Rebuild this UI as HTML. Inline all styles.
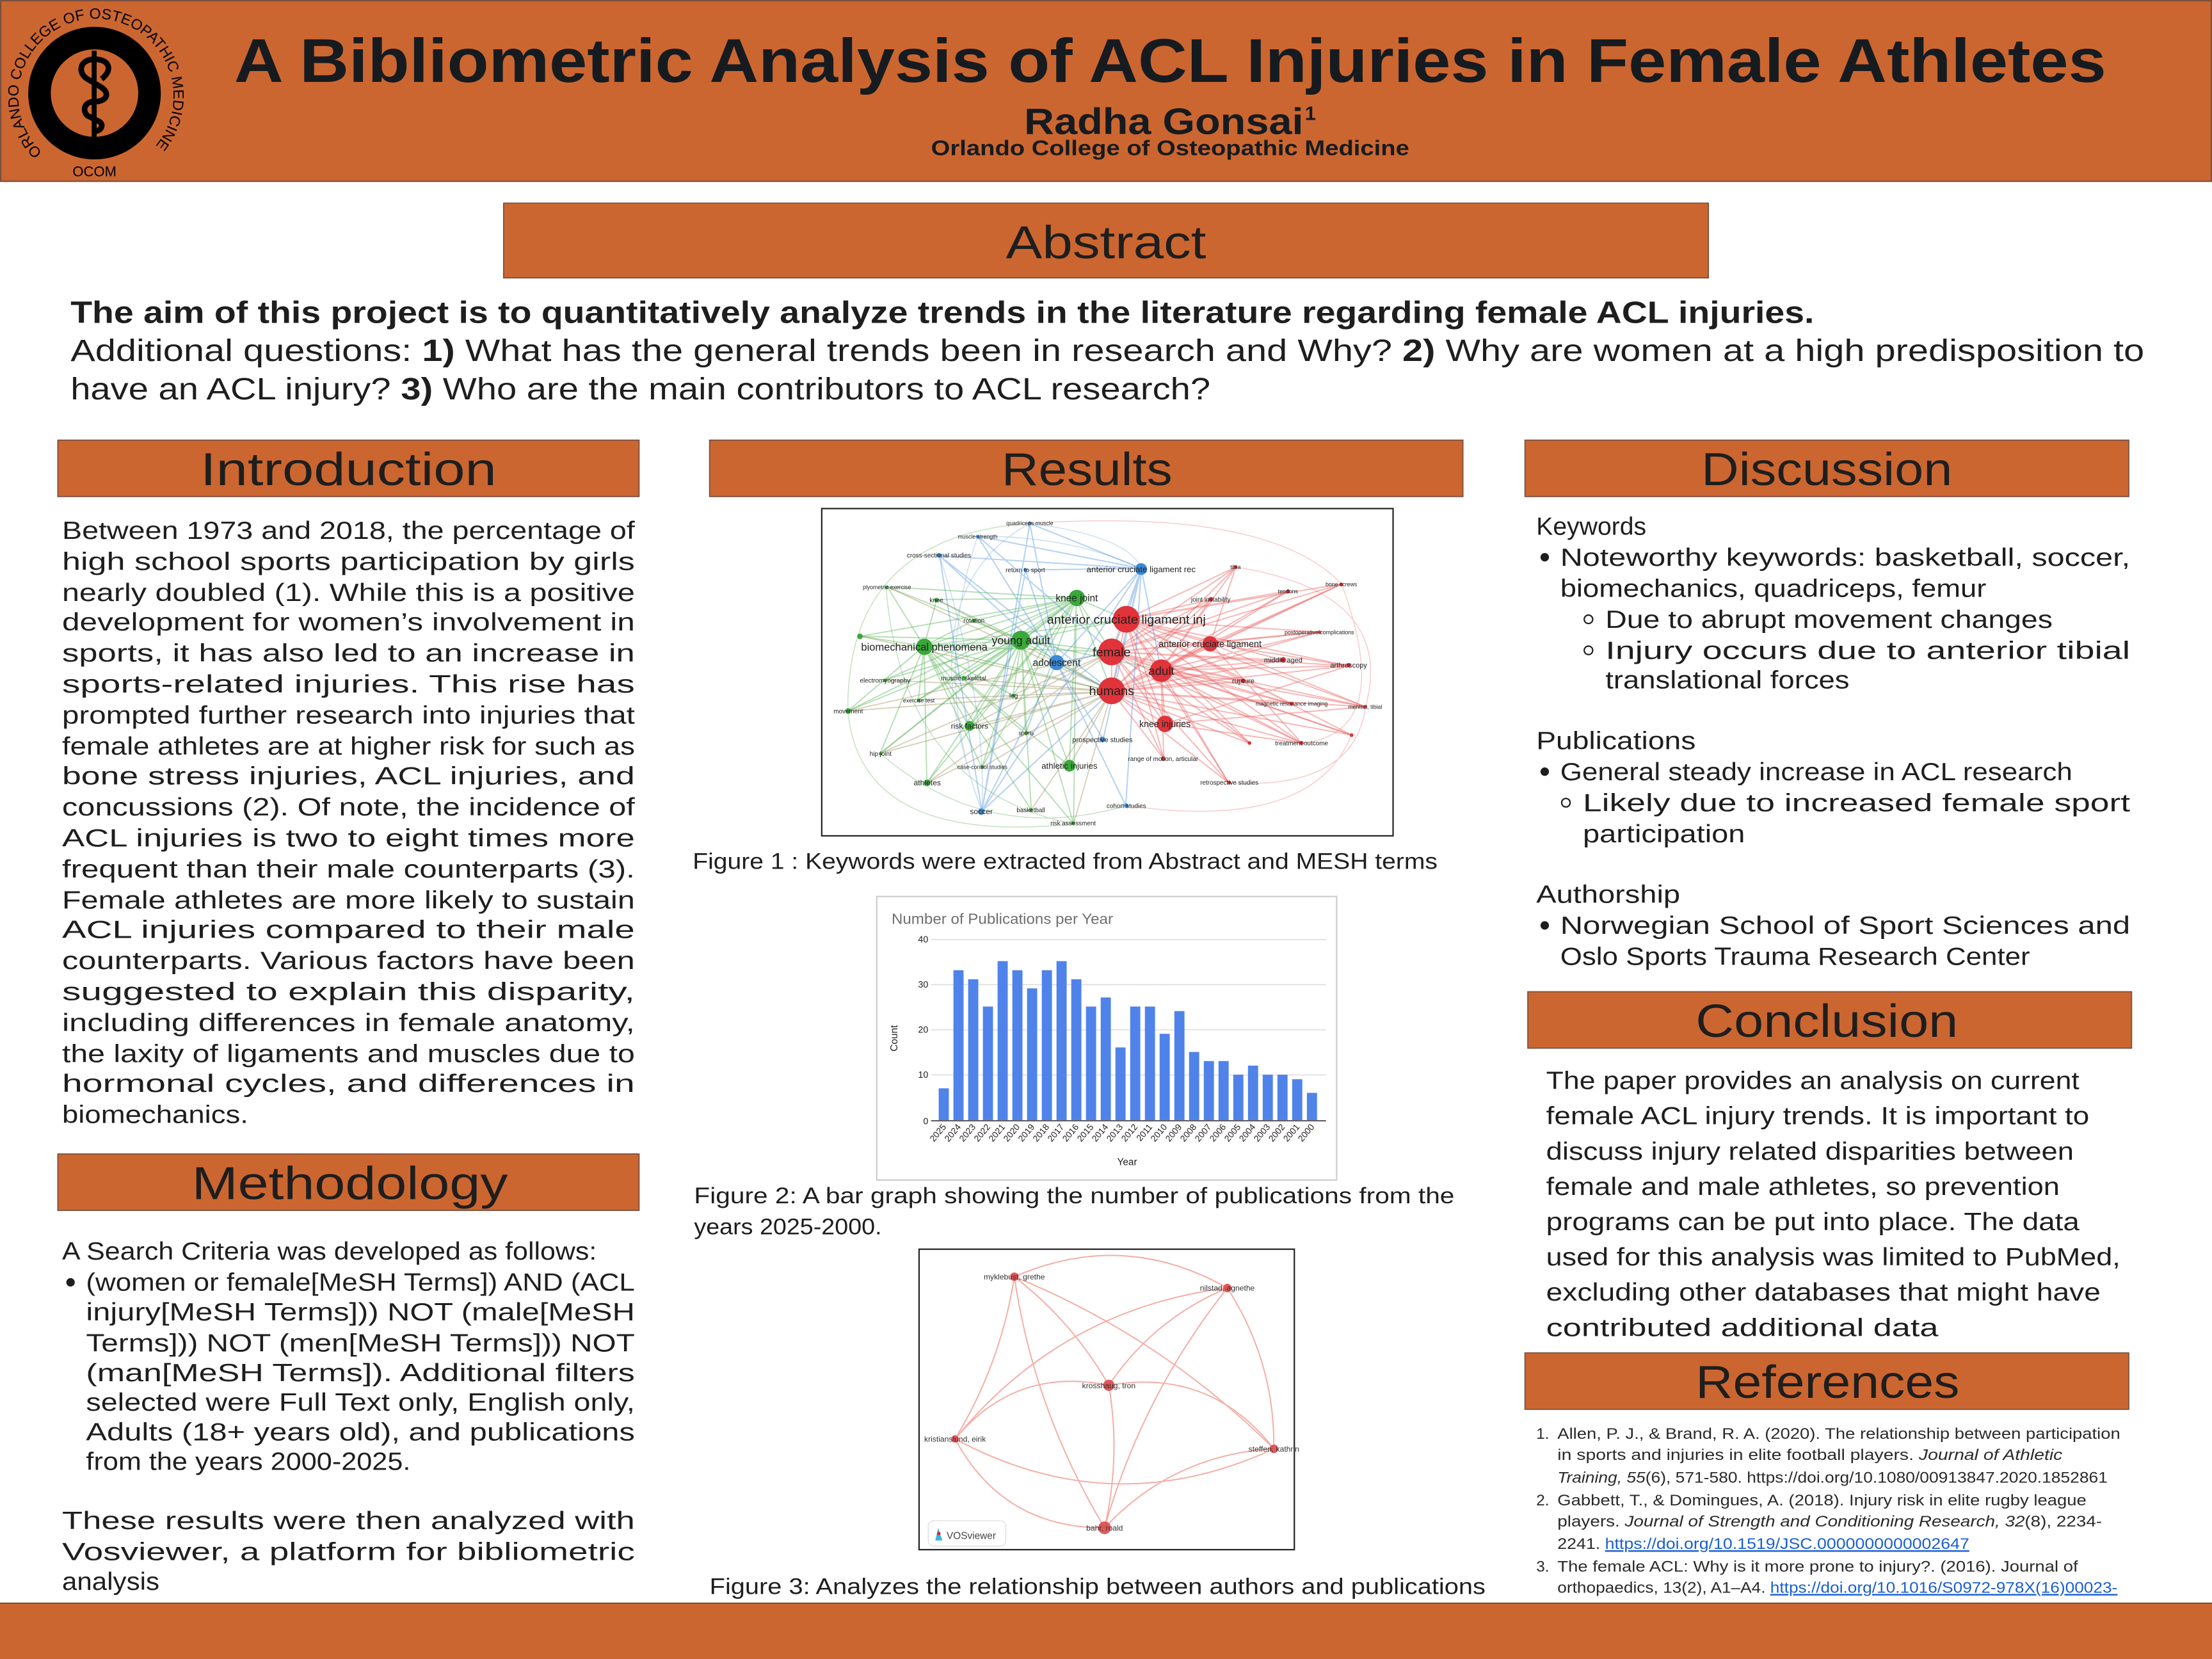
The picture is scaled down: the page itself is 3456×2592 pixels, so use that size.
<!DOCTYPE html>
<html><head><meta charset="utf-8"><style>
html,body{margin:0;padding:0;background:#fff;}
svg{display:block;}
text{font-family:"Liberation Sans",sans-serif;}
</style></head><body>
<svg width="3456" height="2592" viewBox="0 0 1568 1176" xmlns="http://www.w3.org/2000/svg">
<rect width="1568" height="1176" fill="#fff"/>
<!-- header -->
<rect x="0.5" y="0.5" width="1567" height="128" fill="#cc6630" stroke="#7a5040" stroke-width="1"/>
<g>
 <circle cx="67" cy="66" r="39" fill="none" stroke="#000" stroke-width="16"/>
 <defs><path id="lp" d="M 30 108 A 55 55 0 1 1 106 108"/></defs>
 <text font-size="10.5" fill="#000"><textPath href="#lp" textLength="255" lengthAdjust="spacingAndGlyphs">ORLANDO COLLEGE OF OSTEOPATHIC MEDICINE</textPath></text>
 <text x="67" y="125" font-size="10" text-anchor="middle" fill="#000">OCOM</text>
 <rect x="65" y="36" width="3.5" height="62" fill="#000"/>
 <path d="M72 56 C 80 50, 78 42, 67 42 C 56 42, 55 52, 62 56 L 72 62 C 78 66, 76 72, 67 72 C 60 72, 58 78, 62 82 L 70 86 C 74 88, 72 93, 67 93" fill="none" stroke="#000" stroke-width="4"/>
</g>
<text x="166" y="58" font-size="44" font-weight="bold" fill="#161b20" textLength="1327" lengthAdjust="spacingAndGlyphs">A Bibliometric Analysis of ACL Injuries in Female Athletes</text>
<text x="726" y="95" font-size="26" font-weight="bold" fill="#161b20" textLength="198" lengthAdjust="spacingAndGlyphs">Radha Gonsai</text>
<text x="925" y="85" font-size="14" font-weight="bold" fill="#161b20">1</text>
<text x="660" y="110" font-size="15" font-weight="bold" fill="#161b20" textLength="339" lengthAdjust="spacingAndGlyphs">Orlando College of Osteopathic Medicine</text>

<!-- section headers -->
<g fill="#cc6630" stroke="#7a5040" stroke-width="0.8">
 <rect x="357" y="144" width="854" height="53"/>
 <rect x="41" y="312" width="412" height="40"/>
 <rect x="41" y="818" width="412" height="40"/>
 <rect x="503" y="312" width="534" height="40"/>
 <rect x="1081" y="312" width="428" height="40"/>
 <rect x="1083" y="703" width="428" height="40"/>
 <rect x="1081" y="959" width="428" height="40"/>
</g>
<g font-size="33" fill="#1e1e1e">
 <text x="713" y="183" textLength="142" lengthAdjust="spacingAndGlyphs">Abstract</text>
 <text x="142" y="344" textLength="210" lengthAdjust="spacingAndGlyphs">Introduction</text>
 <text x="136" y="850" textLength="224" lengthAdjust="spacingAndGlyphs">Methodology</text>
 <text x="710" y="344" textLength="121" lengthAdjust="spacingAndGlyphs">Results</text>
 <text x="1206" y="344" textLength="178" lengthAdjust="spacingAndGlyphs">Discussion</text>
 <text x="1202" y="735" textLength="186" lengthAdjust="spacingAndGlyphs">Conclusion</text>
 <text x="1202" y="991" textLength="187" lengthAdjust="spacingAndGlyphs">References</text>
</g>

<!-- abstract text -->
<g font-size="22" fill="#1e1e1e">
 <text x="50" y="229" font-weight="bold" textLength="1236" lengthAdjust="spacingAndGlyphs">The aim of this project is to quantitatively analyze trends in the literature regarding female ACL injuries.</text>
 <text x="50" y="256" textLength="1470" lengthAdjust="spacingAndGlyphs">Additional questions:  <tspan font-weight="bold">1)</tspan> What has the general trends been in research and Why? <tspan font-weight="bold">2)</tspan> Why are women at a high predisposition to</text>
 <text x="50" y="283" textLength="808" lengthAdjust="spacingAndGlyphs">have an ACL injury? <tspan font-weight="bold">3)</tspan> Who are the main contributors to ACL research?</text>
</g>

<!-- intro -->
<g font-size="17.5" fill="#1e1e1e">
 <text x="44" y="382" textLength="406" lengthAdjust="spacingAndGlyphs">Between 1973 and 2018, the percentage of</text>
 <text x="44" y="404" textLength="406" lengthAdjust="spacingAndGlyphs">high school sports participation by girls</text>
 <text x="44" y="426" textLength="406" lengthAdjust="spacingAndGlyphs">nearly doubled (1). While this is a positive</text>
 <text x="44" y="447" textLength="406" lengthAdjust="spacingAndGlyphs">development for women’s involvement in</text>
 <text x="44" y="469" textLength="406" lengthAdjust="spacingAndGlyphs">sports, it has also led to an increase in</text>
 <text x="44" y="491" textLength="406" lengthAdjust="spacingAndGlyphs">sports-related   injuries.   This   rise   has</text>
 <text x="44" y="513" textLength="406" lengthAdjust="spacingAndGlyphs">prompted further research into injuries that</text>
 <text x="44" y="535" textLength="406" lengthAdjust="spacingAndGlyphs">female athletes are at higher risk for such as</text>
 <text x="44" y="556" textLength="406" lengthAdjust="spacingAndGlyphs">bone  stress  injuries,  ACL  injuries,  and</text>
 <text x="44" y="578" textLength="406" lengthAdjust="spacingAndGlyphs">concussions (2). Of note, the incidence of</text>
 <text x="44" y="600" textLength="406" lengthAdjust="spacingAndGlyphs">ACL  injuries  is  two  to  eight  times  more</text>
 <text x="44" y="622" textLength="406" lengthAdjust="spacingAndGlyphs">frequent than their male counterparts (3).</text>
 <text x="44" y="644" textLength="406" lengthAdjust="spacingAndGlyphs">Female athletes are more likely to sustain</text>
 <text x="44" y="665" textLength="406" lengthAdjust="spacingAndGlyphs">ACL   injuries   compared   to   their   male</text>
 <text x="44" y="687" textLength="406" lengthAdjust="spacingAndGlyphs">counterparts.  Various  factors  have  been</text>
 <text x="44" y="709" textLength="406" lengthAdjust="spacingAndGlyphs">suggested    to    explain    this    disparity,</text>
 <text x="44" y="731" textLength="406" lengthAdjust="spacingAndGlyphs">including differences in female anatomy,</text>
 <text x="44" y="753" textLength="406" lengthAdjust="spacingAndGlyphs">the laxity of ligaments and muscles due to</text>
 <text x="44" y="774" textLength="406" lengthAdjust="spacingAndGlyphs">hormonal    cycles,    and    differences    in</text>
 <text x="44" y="796" textLength="132" lengthAdjust="spacingAndGlyphs">biomechanics.</text>
</g>

<!-- methodology -->
<g font-size="17.5" fill="#1e1e1e">
 <text x="44" y="893" textLength="379" lengthAdjust="spacingAndGlyphs">A Search Criteria was developed as follows:</text>
 <circle cx="50" cy="909" r="3" fill="#1e1e1e"/>
 <text x="61" y="915" textLength="389" lengthAdjust="spacingAndGlyphs">(women or female[MeSH Terms]) AND (ACL</text>
 <text x="61" y="936" textLength="389" lengthAdjust="spacingAndGlyphs">injury[MeSH   Terms]))   NOT   (male[MeSH</text>
 <text x="61" y="958" textLength="389" lengthAdjust="spacingAndGlyphs">Terms]))  NOT  (men[MeSH  Terms]))  NOT</text>
 <text x="61" y="979" textLength="389" lengthAdjust="spacingAndGlyphs">(man[MeSH   Terms]).   Additional   filters</text>
 <text x="61" y="1000" textLength="389" lengthAdjust="spacingAndGlyphs">selected were Full Text only, English only,</text>
 <text x="61" y="1021" textLength="389" lengthAdjust="spacingAndGlyphs">Adults  (18+  years  old),  and  publications</text>
 <text x="61" y="1042" textLength="230" lengthAdjust="spacingAndGlyphs">from the years 2000-2025.</text>
 <text x="44" y="1084" textLength="406" lengthAdjust="spacingAndGlyphs">These   results   were   then   analyzed   with</text>
 <text x="44" y="1106" textLength="406" lengthAdjust="spacingAndGlyphs">Vosviewer,    a    platform    for    bibliometric</text>
 <text x="44" y="1127" textLength="69" lengthAdjust="spacingAndGlyphs">analysis</text>
</g>

<!-- discussion -->
<g font-size="17.5" fill="#1e1e1e">
 <text x="1089" y="379" textLength="78" lengthAdjust="spacingAndGlyphs">Keywords</text>
 <circle cx="1095" cy="395" r="3" fill="#1e1e1e"/>
 <text x="1106" y="401" textLength="404" lengthAdjust="spacingAndGlyphs">Noteworthy  keywords:  basketball,  soccer,</text>
 <text x="1106" y="423" textLength="302" lengthAdjust="spacingAndGlyphs">biomechanics, quadriceps, femur</text>
 <circle cx="1126" cy="439" r="3" fill="none" stroke="#1e1e1e" stroke-width="1"/>
 <text x="1138" y="445" textLength="317" lengthAdjust="spacingAndGlyphs">Due to abrupt movement changes</text>
 <circle cx="1126" cy="461" r="3" fill="none" stroke="#1e1e1e" stroke-width="1"/>
 <text x="1138" y="467" textLength="372" lengthAdjust="spacingAndGlyphs">Injury   occurs   due   to   anterior   tibial</text>
 <text x="1138" y="488" textLength="173" lengthAdjust="spacingAndGlyphs">translational forces</text>
 <text x="1089" y="531" textLength="113" lengthAdjust="spacingAndGlyphs">Publications</text>
 <circle cx="1095" cy="547" r="3" fill="#1e1e1e"/>
 <text x="1106" y="553" textLength="363" lengthAdjust="spacingAndGlyphs">General steady increase in ACL research</text>
 <circle cx="1110" cy="569" r="3" fill="none" stroke="#1e1e1e" stroke-width="1"/>
 <text x="1122" y="575" textLength="388" lengthAdjust="spacingAndGlyphs">Likely   due   to   increased   female   sport</text>
 <text x="1122" y="597" textLength="115" lengthAdjust="spacingAndGlyphs">participation</text>
 <text x="1089" y="640" textLength="102" lengthAdjust="spacingAndGlyphs">Authorship</text>
 <circle cx="1095" cy="656" r="3" fill="#1e1e1e"/>
 <text x="1106" y="662" textLength="404" lengthAdjust="spacingAndGlyphs">Norwegian  School  of  Sport  Sciences  and</text>
 <text x="1106" y="684" textLength="333" lengthAdjust="spacingAndGlyphs">Oslo Sports Trauma Research Center</text>
</g>

<!-- conclusion -->
<g font-size="17.5" fill="#1e1e1e">
 <text x="1096" y="772" textLength="378" lengthAdjust="spacingAndGlyphs">The paper provides an analysis on current</text>
 <text x="1096" y="797" textLength="385" lengthAdjust="spacingAndGlyphs">female ACL injury trends. It is important to</text>
 <text x="1096" y="822" textLength="374" lengthAdjust="spacingAndGlyphs">discuss injury related disparities between</text>
 <text x="1096" y="847" textLength="364" lengthAdjust="spacingAndGlyphs">female and male athletes, so prevention</text>
 <text x="1096" y="872" textLength="378" lengthAdjust="spacingAndGlyphs">programs can be put into place.  The data</text>
 <text x="1096" y="897" textLength="407" lengthAdjust="spacingAndGlyphs">used for this analysis was limited to PubMed,</text>
 <text x="1096" y="922" textLength="393" lengthAdjust="spacingAndGlyphs">excluding other databases that might have</text>
 <text x="1096" y="947" textLength="278" lengthAdjust="spacingAndGlyphs">contributed additional data</text>
</g>

<!-- references -->
<g font-size="11" fill="#2a2a2a">
 <text x="1089" y="1020">1.</text>
 <text x="1104" y="1020" textLength="399" lengthAdjust="spacingAndGlyphs">Allen, P. J., &amp; Brand, R. A. (2020). The relationship between participation</text>
 <text x="1104" y="1035" textLength="358" lengthAdjust="spacingAndGlyphs">in sports and injuries in elite football players. <tspan font-style="italic">Journal of Athletic</tspan></text>
 <text x="1104" y="1051" textLength="390" lengthAdjust="spacingAndGlyphs"><tspan font-style="italic">Training, 55</tspan>(6), 571-580. https://doi.org/10.1080/00913847.2020.1852861</text>
 <text x="1089" y="1067">2.</text>
 <text x="1104" y="1067" textLength="375" lengthAdjust="spacingAndGlyphs">Gabbett, T., &amp; Domingues, A. (2018). Injury risk in elite rugby league</text>
 <text x="1104" y="1082" textLength="386" lengthAdjust="spacingAndGlyphs">players. <tspan font-style="italic">Journal of Strength and Conditioning Research, 32</tspan>(8), 2234-</text>
 <text x="1104" y="1098" textLength="292" lengthAdjust="spacingAndGlyphs">2241. <tspan fill="#1a5fd0" text-decoration="underline">https://doi.org/10.1519/JSC.0000000000002647</tspan></text>
 <text x="1089" y="1114">3.</text>
 <text x="1104" y="1114" textLength="369" lengthAdjust="spacingAndGlyphs">The female ACL: Why is it more prone to injury?. (2016). Journal of</text>
 <text x="1104" y="1129" textLength="397" lengthAdjust="spacingAndGlyphs">orthopaedics, 13(2), A1–A4. <tspan fill="#1a5fd0" text-decoration="underline">https://doi.org/10.1016/S0972-978X(16)00023-</tspan></text>
 <text x="1104" y="1145" fill="#1a5fd0" text-decoration="underline">4</text>
</g>

<!-- captions -->
<g font-size="16" fill="#1e1e1e">
 <text x="491" y="616" textLength="528" lengthAdjust="spacingAndGlyphs">Figure 1 : Keywords were extracted from Abstract and MESH terms</text>
 <text x="492" y="853" textLength="539" lengthAdjust="spacingAndGlyphs">Figure 2: A bar graph showing  the number of publications from the</text>
 <text x="492" y="875" textLength="133" lengthAdjust="spacingAndGlyphs">years 2025-2000.</text>
 <text x="503" y="1130" textLength="550" lengthAdjust="spacingAndGlyphs">Figure 3: Analyzes the relationship between authors and publications</text>
</g>

<!-- figure 1 -->
<rect x="582.5" y="360.5" width="405" height="232" fill="#fff" stroke="#222" stroke-width="1"/>
<g fill="none" stroke-width="0.7" stroke-opacity="0.45">
 <path stroke="#80c080" d="M601 504 Q600 380 730 371 M601 504 Q610 600 761 584 M628 416 Q640 560 761 584 M624 534 Q700 600 799 571"/>
 <path stroke="#f09090" d="M876 402 Q990 420 968 501 M951 414 Q990 520 922 527 M730 371 Q900 360 951 414 M871 555 Q960 560 968 501 M799 571 Q930 590 958 521"/>
 <path stroke="#90b8e8" d="M730 371 Q640 420 696 575 M693 380 Q660 480 696 575 M666 394 Q700 500 696 575 M730 371 Q800 380 809 403 M693 380 Q760 380 809 403"/>
 <path stroke="#60b860" stroke-width="0.9" d="M655 458 L629 416 M655 458 L664 425 M655 458 L763 424 M655 458 L690 440 M655 458 L610 451 M655 458 L724 454 M655 458 L627 482 M655 458 L683 481 M655 458 L718 493 M655 458 L651 496 M655 458 L601 504 M655 458 L687 515 M655 458 L727 520 M655 458 L624 534 M655 458 L696 544 M655 458 L758 543 M655 458 L657 555 M655 458 L731 574 M655 458 L761 584 M655 458 L798 439 M655 458 L788 462 M655 458 L788 490"/>
 <path stroke="#60b860" stroke-width="0.9" d="M724 454 L629 416 M724 454 L664 425 M724 454 L763 424 M724 454 L690 440 M724 454 L610 451 M724 454 L627 482 M724 454 L683 481 M724 454 L718 493 M724 454 L651 496 M724 454 L601 504 M724 454 L687 515 M724 454 L727 520 M724 454 L624 534 M724 454 L696 544 M724 454 L758 543 M724 454 L657 555 M724 454 L731 574 M724 454 L761 584 M724 454 L798 439 M724 454 L788 462 M724 454 L788 490 M724 454 L823 475"/>
 <path stroke="#60b860" stroke-width="0.9" d="M763 424 L629 416 M763 424 L664 425 M763 424 L690 440 M763 424 L610 451 M763 424 L627 482 M763 424 L683 481 M763 424 L718 493 M763 424 L651 496 M763 424 L601 504 M763 424 L687 515 M763 424 L727 520 M763 424 L624 534 M763 424 L696 544 M763 424 L758 543 M763 424 L657 555 M763 424 L761 584 M763 424 L798 439 M763 424 L788 462 M763 424 L788 490"/>
 <path stroke="#a09060" stroke-width="0.8" d="M788 490 L629 416 M788 490 L664 425 M788 490 L610 451 M788 490 L627 482 M788 490 L683 481 M788 490 L651 496 M788 490 L601 504 M788 490 L687 515 M788 490 L624 534 M788 490 L696 544 M788 490 L758 543 M788 490 L657 555 M788 490 L731 574 M788 490 L761 584 M788 462 L687 515 M788 462 L657 555 M788 462 L601 504 M788 462 L624 534"/>
 <path stroke="#ee6060" stroke-width="0.9" d="M798 439 L876 402 M798 439 L951 414 M798 439 L913 419 M798 439 L858 425 M798 439 L935 448 M798 439 L788 462 M798 439 L858 456 M798 439 L910 468 M798 439 L956 472 M798 439 L823 475 M798 439 L788 490 M798 439 L881 483 M798 439 L916 499 M798 439 L968 501 M798 439 L826 513 M798 439 L886 527 M798 439 L958 521 M798 439 L923 527 M798 439 L825 538 M798 439 L871 555"/>
 <path stroke="#ee6060" stroke-width="0.9" d="M788 462 L876 402 M788 462 L951 414 M788 462 L913 419 M788 462 L858 425 M788 462 L935 448 M788 462 L858 456 M788 462 L910 468 M788 462 L956 472 M788 462 L823 475 M788 462 L788 490 M788 462 L881 483 M788 462 L916 499 M788 462 L968 501 M788 462 L826 513 M788 462 L886 527 M788 462 L958 521 M788 462 L923 527 M788 462 L825 538 M788 462 L871 555"/>
 <path stroke="#ee6060" stroke-width="0.9" d="M788 490 L876 402 M788 490 L951 414 M788 490 L913 419 M788 490 L858 425 M788 490 L935 448 M788 490 L858 456 M788 490 L910 468 M788 490 L956 472 M788 490 L823 475 M788 490 L881 483 M788 490 L916 499 M788 490 L968 501 M788 490 L826 513 M788 490 L886 527 M788 490 L958 521 M788 490 L923 527 M788 490 L825 538 M788 490 L871 555"/>
 <path stroke="#ee6060" stroke-width="0.9" d="M823 475 L876 402 M823 475 L951 414 M823 475 L913 419 M823 475 L858 425 M823 475 L935 448 M823 475 L858 456 M823 475 L910 468 M823 475 L956 472 M823 475 L881 483 M823 475 L916 499 M823 475 L968 501 M823 475 L826 513 M823 475 L886 527 M823 475 L958 521 M823 475 L923 527 M823 475 L825 538 M823 475 L871 555 M858 456 L951 414 M858 456 L956 472 M858 456 L968 501 M858 456 L923 527 M858 456 L876 402 M858 456 L935 448 M826 513 L968 501 M826 513 L923 527 M826 513 L956 472"/>
 <path stroke="#5a98e0" stroke-width="0.9" d="M809 403 L730 371 M809 403 L693 380 M809 403 L666 394 M809 403 L727 404 M809 403 L749 470 M809 403 L782 524 M809 403 L798 571 M809 403 L696 575 M809 403 L798 439 M809 403 L788 462 M809 403 L788 490 M809 403 L823 475 M749 470 L730 371 M749 470 L693 380 M749 470 L666 394 M749 470 L727 404 M749 470 L782 524 M749 470 L798 571 M749 470 L696 575 M749 470 L788 462 M749 470 L788 490 M696 575 L730 371 M696 575 L666 394 M696 575 L727 404 M696 575 L788 490 M666 394 L788 490 M693 380 L788 462"/>
</g>
<g>
 <circle cx="730" cy="370.9" r="1.3" fill="#3a8ad8"/><circle cx="693" cy="380.4" r="1.3" fill="#3a8ad8"/><circle cx="665.6" cy="393.6" r="1.6" fill="#3a8ad8"/><circle cx="726.8" cy="403.9" r="1.3" fill="#3a8ad8"/>
 <circle cx="808.9" cy="403.4" r="4.2" fill="#3a8ad8"/><circle cx="875.8" cy="401.9" r="1.3" fill="#e0333a"/><circle cx="950.8" cy="414.2" r="1.3" fill="#e0333a"/><circle cx="913" cy="419.2" r="1.4" fill="#e0333a"/>
 <circle cx="628.7" cy="416.3" r="1.3" fill="#3aa83a"/><circle cx="663.8" cy="425.4" r="1.6" fill="#3aa83a"/><circle cx="763.3" cy="423.9" r="5.8" fill="#3aa83a"/><circle cx="858.3" cy="424.8" r="1.6" fill="#e0333a"/>
 <circle cx="798.4" cy="439" r="9.5" fill="#e0333a"/><circle cx="690.4" cy="439.9" r="1.3" fill="#3aa83a"/><circle cx="935.2" cy="448.2" r="1.3" fill="#e0333a"/><circle cx="609.6" cy="451.1" r="2" fill="#3aa83a"/>
 <circle cx="655.2" cy="458.5" r="5.8" fill="#3aa83a"/><circle cx="723.7" cy="453.8" r="6.7" fill="#3aa83a"/><circle cx="788" cy="462.1" r="9.5" fill="#e0333a"/><circle cx="857.8" cy="456.4" r="5.4" fill="#e0333a"/>
 <circle cx="749" cy="469.7" r="5.4" fill="#3a8ad8"/><circle cx="909.6" cy="467.7" r="2" fill="#e0333a"/><circle cx="956" cy="471.5" r="1.6" fill="#e0333a"/><circle cx="823.2" cy="475.4" r="8" fill="#e0333a"/>
 <circle cx="627.4" cy="482.3" r="1.3" fill="#3aa83a"/><circle cx="683.1" cy="480.7" r="1.6" fill="#3aa83a"/><circle cx="788" cy="489.7" r="9.5" fill="#e0333a"/><circle cx="881.3" cy="482.6" r="1.6" fill="#e0333a"/>
 <circle cx="718.5" cy="493.1" r="1.3" fill="#3aa83a"/><circle cx="651.3" cy="496.5" r="1.3" fill="#3aa83a"/><circle cx="915.6" cy="498.9" r="1.4" fill="#e0333a"/><circle cx="967.7" cy="501" r="1.3" fill="#e0333a"/>
 <circle cx="601.3" cy="504" r="2" fill="#3aa83a"/><circle cx="825.8" cy="513.1" r="5.8" fill="#e0333a"/><circle cx="687.3" cy="514.6" r="3.5" fill="#3aa83a"/><circle cx="727.4" cy="519.6" r="1.3" fill="#3aa83a"/>
 <circle cx="781.5" cy="524.2" r="2" fill="#3a8ad8"/><circle cx="885.7" cy="526.7" r="1.3" fill="#e0333a"/><circle cx="958.1" cy="521.1" r="1.3" fill="#e0333a"/><circle cx="922.7" cy="526.7" r="1.4" fill="#e0333a"/>
 <circle cx="624.2" cy="534.3" r="1.3" fill="#3aa83a"/><circle cx="824.5" cy="537.8" r="1.6" fill="#e0333a"/><circle cx="696.4" cy="543.8" r="1.3" fill="#3aa83a"/><circle cx="758.1" cy="542.8" r="4.2" fill="#3aa83a"/>
 <circle cx="657.3" cy="554.9" r="2.3" fill="#3aa83a"/><circle cx="871.4" cy="554.7" r="1.3" fill="#e0333a"/><circle cx="798.4" cy="571.1" r="1.6" fill="#3a8ad8"/><circle cx="695.6" cy="575.3" r="2.3" fill="#3a8ad8"/>
 <circle cx="730.7" cy="574.1" r="1.3" fill="#3aa83a"/><circle cx="760.7" cy="583.5" r="1.3" fill="#3aa83a"/>
</g>
<g fill="#222" text-anchor="middle">
 <text x="730" y="372.3" font-size="4">quadriceps muscle</text><text x="693" y="381.8" font-size="4">muscle strength</text><text x="665.6" y="395.2" font-size="4.5">cross-sectional studies</text><text x="726.8" y="405.5" font-size="4.5">return to sport</text>
 <text x="808.9" y="405.5" font-size="6">anterior cruciate ligament rec</text><text x="875.8" y="403.3" font-size="4">tibia</text><text x="950.8" y="415.6" font-size="4">bone screws</text><text x="913" y="420.6" font-size="4">tendons</text>
 <text x="628.7" y="417.7" font-size="4">plyometric exercise</text><text x="663.8" y="427" font-size="4.5">knee</text><text x="763.3" y="426.3" font-size="7">knee joint</text><text x="858.3" y="426.4" font-size="4.5">joint instability</text>
 <text x="798.4" y="442.1" font-size="9">anterior cruciate ligament inj</text><text x="690.4" y="441.5" font-size="4.5">rotation</text><text x="935.2" y="449.6" font-size="4">postoperative complications</text>
 <text x="655.2" y="461.1" font-size="7.5">biomechanical phenomena</text><text x="723.7" y="456.6" font-size="8">young adult</text><text x="788" y="465.2" font-size="9">female</text><text x="857.8" y="458.7" font-size="6.5">anterior cruciate ligament</text>
 <text x="749" y="472.1" font-size="7">adolescent</text><text x="909.6" y="469.5" font-size="5">middle aged</text><text x="956" y="473.3" font-size="5">arthroscopy</text><text x="823.2" y="478.4" font-size="8.5">adult</text>
 <text x="627.4" y="483.9" font-size="4.5">electromyography</text><text x="683.1" y="482.3" font-size="4.5">muscle, skeletal</text><text x="788" y="492.8" font-size="9">humans</text><text x="881.3" y="484.4" font-size="5">rupture</text>
 <text x="718.5" y="494.7" font-size="4.5">leg</text><text x="651.3" y="497.9" font-size="4">exercise test</text><text x="915.6" y="500.3" font-size="4">magnetic resonance imaging</text><text x="967.7" y="502.4" font-size="4">menisci, tibial</text>
 <text x="601.3" y="505.6" font-size="4.5">movement</text><text x="825.8" y="515.4" font-size="6.5">knee injuries</text><text x="687.3" y="516.5" font-size="5.5">risk factors</text><text x="727.4" y="521" font-size="4">sports</text>
 <text x="781.5" y="526" font-size="5">prospective studies</text><text x="922.7" y="528.3" font-size="4.5">treatment outcome</text><text x="624.2" y="535.9" font-size="4.5">hip joint</text>
 <text x="824.5" y="539.4" font-size="4.5">range of motion, articular</text><text x="696.4" y="545.2" font-size="4">case-control studies</text><text x="758.1" y="544.9" font-size="6">athletic injuries</text>
 <text x="657.3" y="556.8" font-size="5.5">athletes</text><text x="871.4" y="556.3" font-size="4.5">retrospective studies</text><text x="798.4" y="572.7" font-size="4.5">cohort studies</text><text x="695.6" y="577.2" font-size="5.5">soccer</text>
 <text x="730.7" y="575.7" font-size="4.5">basketball</text><text x="760.7" y="585.1" font-size="4.5">risk assessment</text>
</g>

<!-- figure 2 bar chart -->
<rect x="621.5" y="635.5" width="326" height="201" fill="#fff" stroke="#ccc" stroke-width="1"/>
<text x="632" y="655" font-size="10.5" fill="#6f6f6f" textLength="157" lengthAdjust="spacingAndGlyphs">Number of Publications per Year</text>
<g stroke="#ddd" stroke-width="0.7">
 <line x1="660" y1="666" x2="940" y2="666"/><line x1="660" y1="698" x2="940" y2="698"/>
 <line x1="660" y1="730" x2="940" y2="730"/><line x1="660" y1="762" x2="940" y2="762"/>
</g>
<g font-size="6.5" fill="#222" text-anchor="end">
 <text x="658" y="668">40</text><text x="658" y="700">30</text><text x="658" y="732">20</text><text x="658" y="764">10</text><text x="658" y="797">0</text>
</g>
<text transform="translate(636,736) rotate(-90)" font-size="7" text-anchor="middle" fill="#222">Count</text>
<text x="799" y="826" font-size="7" text-anchor="middle" fill="#222">Year</text>
<g fill="#5083ea">
 <rect x="665.4" y="771.46" width="7.2" height="22.54"/><rect x="675.84" y="687.74" width="7.2" height="106.26"/><rect x="686.28" y="694.18" width="7.2" height="99.82"/><rect x="696.72" y="713.5" width="7.2" height="80.5"/>
 <rect x="707.16" y="681.3" width="7.2" height="112.7"/><rect x="717.6" y="687.74" width="7.2" height="106.26"/><rect x="728.04" y="700.62" width="7.2" height="93.38"/><rect x="738.48" y="687.74" width="7.2" height="106.26"/>
 <rect x="748.92" y="681.3" width="7.2" height="112.7"/><rect x="759.36" y="694.18" width="7.2" height="99.82"/><rect x="769.8" y="713.5" width="7.2" height="80.5"/><rect x="780.24" y="707.06" width="7.2" height="86.94"/>
 <rect x="790.68" y="742.48" width="7.2" height="51.52"/><rect x="801.12" y="713.5" width="7.2" height="80.5"/><rect x="811.56" y="713.5" width="7.2" height="80.5"/><rect x="822" y="732.82" width="7.2" height="61.18"/>
 <rect x="832.44" y="716.72" width="7.2" height="77.28"/><rect x="842.88" y="745.7" width="7.2" height="48.3"/><rect x="853.32" y="752.14" width="7.2" height="41.86"/><rect x="863.76" y="752.14" width="7.2" height="41.86"/>
 <rect x="874.2" y="761.8" width="7.2" height="32.2"/><rect x="884.64" y="755.36" width="7.2" height="38.64"/><rect x="895.08" y="761.8" width="7.2" height="32.2"/><rect x="905.52" y="761.8" width="7.2" height="32.2"/>
 <rect x="915.96" y="765.02" width="7.2" height="28.98"/><rect x="926.4" y="774.68" width="7.2" height="19.32"/>
</g>
<g font-size="6.3" fill="#222" text-anchor="end">
 <text transform="translate(671,799) rotate(-50)">2025</text><text transform="translate(681.44,799) rotate(-50)">2024</text><text transform="translate(691.88,799) rotate(-50)">2023</text><text transform="translate(702.32,799) rotate(-50)">2022</text>
 <text transform="translate(712.76,799) rotate(-50)">2021</text><text transform="translate(723.2,799) rotate(-50)">2020</text><text transform="translate(733.64,799) rotate(-50)">2019</text><text transform="translate(744.08,799) rotate(-50)">2018</text>
 <text transform="translate(754.52,799) rotate(-50)">2017</text><text transform="translate(764.96,799) rotate(-50)">2016</text><text transform="translate(775.4,799) rotate(-50)">2015</text><text transform="translate(785.84,799) rotate(-50)">2014</text>
 <text transform="translate(796.28,799) rotate(-50)">2013</text><text transform="translate(806.72,799) rotate(-50)">2012</text><text transform="translate(817.16,799) rotate(-50)">2011</text><text transform="translate(827.6,799) rotate(-50)">2010</text>
 <text transform="translate(838.04,799) rotate(-50)">2009</text><text transform="translate(848.48,799) rotate(-50)">2008</text><text transform="translate(858.92,799) rotate(-50)">2007</text><text transform="translate(869.36,799) rotate(-50)">2006</text>
 <text transform="translate(879.8,799) rotate(-50)">2005</text><text transform="translate(890.24,799) rotate(-50)">2004</text><text transform="translate(900.68,799) rotate(-50)">2003</text><text transform="translate(911.12,799) rotate(-50)">2002</text>
 <text transform="translate(921.56,799) rotate(-50)">2001</text><text transform="translate(932,799) rotate(-50)">2000</text>
</g>
<line x1="660" y1="794.5" x2="940" y2="794.5" stroke="#444" stroke-width="0.8"/>

<!-- figure 3 -->
<rect x="651.5" y="885.5" width="266" height="213" fill="#fff" stroke="#222" stroke-width="1"/>
<g fill="none" stroke="#f29a90" stroke-width="0.9" opacity="0.8">
 <path d="M719 905 Q796.5 871.3 870 913"/><path d="M719 905 Q760.2 936.8 786 982"/><path d="M719 905 Q709.5 966.7 677 1020"/>
 <path d="M719 905 Q733.2 1000.4 783 1083"/><path d="M719 905 Q823.2 947.6 903 1027"/><path d="M870 913 Q817.7 934.9 786 982"/>
 <path d="M870 913 Q752.1 927.9 677 1020"/><path d="M870 913 Q903.6 965.1 903 1027"/><path d="M870 913 Q809.5 989.3 783 1083"/>
 <path d="M786 982 Q720.1 968.3 677 1020"/><path d="M786 982 Q858 969.4 903 1027"/><path d="M786 982 Q794.6 1032.8 783 1083"/>
 <path d="M677 1020 Q711.1 1083.3 783 1083"/><path d="M677 1020 Q788.2 1080 903 1027"/><path d="M903 1027 Q831.8 1031 783 1083"/>
</g>
<g fill="#e0474a" opacity="0.9">
 <circle cx="719" cy="905" r="3"/><circle cx="870" cy="913" r="3"/><circle cx="786" cy="982" r="4"/><circle cx="677" cy="1020" r="2.6"/><circle cx="903" cy="1027" r="3"/><circle cx="783" cy="1083" r="4.5"/>
</g>
<g font-size="5.5" fill="#333" text-anchor="middle">
 <text x="719" y="907">myklebust, grethe</text><text x="870" y="915">nilstad, agnethe</text><text x="786" y="984">krosshaug, tron</text>
 <text x="677" y="1022">kristianslund, eirik</text><text x="903" y="1029">steffen, kathrin</text><text x="783" y="1085">bahr, roald</text>
</g>
<rect x="658" y="1078" width="55" height="18" rx="4" fill="#fff" stroke="#ddd" stroke-width="0.6"/>
<path d="M663 1092 L665 1083 L668 1092 Z" fill="#3ab5e0"/><circle cx="665.5" cy="1087" r="1.2" fill="#e02020"/>
<text x="671" y="1091" font-size="7" fill="#444">VOSviewer</text>

<!-- footer -->
<rect x="0" y="1136" width="1568" height="40" fill="#cc6630"/>
<line x1="0" y1="1136.5" x2="1568" y2="1136.5" stroke="#7a5040" stroke-width="1"/>
</svg>
</body></html>
